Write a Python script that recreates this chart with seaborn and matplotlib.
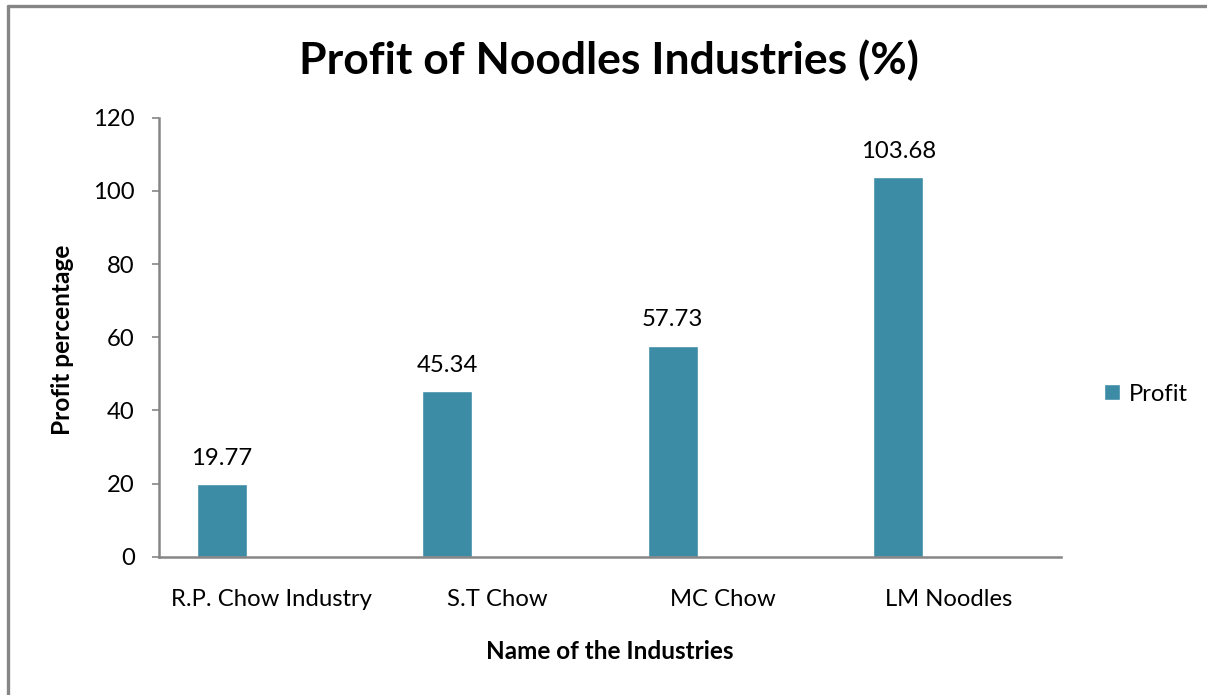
import matplotlib
matplotlib.use("Agg")
import matplotlib.pyplot as plt
from matplotlib.patches import Patch
from matplotlib.lines import Line2D
import seaborn as sns
import pandas as pd

industries = ["R.P. Chow Industry", "S.T Chow", "MC Chow", "LM Noodles"]
profit = [19.77, 45.34, 57.73, 103.68]
y_ticks = [0, 20, 40, 60, 80, 100, 120]
series_name = "Profit"

bar_color = "#3D8CA5"
axis_color = "#868686"
font = ["Lato", "DejaVu Sans"]

sns.set_theme(style="white")
plt.rcParams["font.family"] = font
plt.rcParams["text.color"] = "black"
plt.rcParams["xtick.color"] = "black"
plt.rcParams["ytick.color"] = "black"

df = pd.DataFrame({"industry": industries, "profit": profit, "series": series_name})

fig = plt.figure(figsize=(12.07, 6.95), dpi=100)
ax = fig.add_axes([0.1317, 0.199, 0.7474, 0.6316])

# Second (empty) series slot keeps the bars in the left half of each category
sns.barplot(data=df, x="industry", y="profit", hue="series",
            hue_order=[series_name, " "], palette=[bar_color, bar_color],
            dodge=True, width=0.887, gap=0.5, saturation=1,
            order=industries, ax=ax, legend=False)

for c in ax.containers:
    ax.bar_label(c, labels=[f"{v:.2f}" for v in c.datavalues], padding=11,
                 fontsize=17.2, color="black")

ax.set_xlim(-0.5, 3.5)
ax.set_ylim(0, 120)
ax.set_yticks(y_ticks)
ax.set_yticklabels([str(t) for t in y_ticks], fontsize=17.2)
ax.tick_params(axis="y", length=5, width=1.2, color=axis_color, pad=12.5,
               left=True, labelcolor="black")
ax.tick_params(axis="x", length=0, pad=23, labelsize=17.2, labelcolor="black")
ax.set_xlabel("")
ax.set_ylabel("")
for side in ["top", "right"]:
    ax.spines[side].set_visible(False)
for side in ["left", "bottom"]:
    ax.spines[side].set_color(axis_color)
    ax.spines[side].set_linewidth(1.8)

fig.text(0.5046, 0.9137, "Profit of Noodles Industries (%)", ha="center",
         va="center", fontsize=32, fontweight="bold", color="black")
fig.text(0.0514, 0.511, "Profit percentage", rotation=90, ha="center",
         va="center", fontsize=17.6, fontweight="bold", color="black")
fig.text(0.505, 0.0619, "Name of the Industries", ha="center", va="center",
         fontsize=17.5, fontweight="bold", color="black")

fig.legend(handles=[Patch(facecolor=bar_color, label=series_name)],
           loc="center left", bbox_to_anchor=(0.897, 0.433), frameon=False,
           fontsize=17.2, handlelength=0.65, handleheight=0.65, handletextpad=0.4)

# Chart frame edges along the top and left
fig.add_artist(Line2D([0.0066, 1.0], [0.9914, 0.9914], transform=fig.transFigure,
                      color=axis_color, linewidth=2.4))
fig.add_artist(Line2D([0.0066, 0.0066], [0.0, 0.9914], transform=fig.transFigure,
                      color=axis_color, linewidth=2.4))

fig.savefig("out.png", dpi=100, facecolor="white")
